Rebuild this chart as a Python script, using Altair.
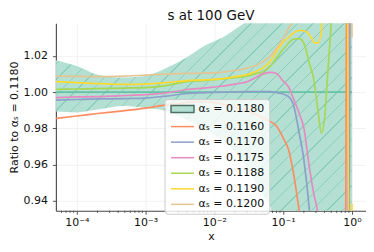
import altair as alt
import pandas as pd

# ---------------- data ----------------
X = [5e-5, 1e-4, 2e-4, 5e-4, 1e-3, 2e-3, 4e-3, 7e-3, 0.01, 0.015, 0.02, 0.03,
     0.04, 0.05, 0.065, 0.08, 0.1, 0.12, 0.14, 0.17, 0.2, 0.24, 0.28, 0.32,
     0.36, 0.40, 0.45, 0.5, 0.6, 0.7, 0.8, 0.85, 0.9, 0.95, 1.0]

BAND_LO = [0.9893, 0.9888, 0.9904, 0.9923, 0.9912, 0.9896, 0.9846, 0.9802, 0.9764,
           0.9720, 0.9671, 0.9583, 0.9500, 0.9435, 0.9369, 0.925, 0.925, 0.925,
           0.925, 0.925, 0.925, 0.925, 0.925, 0.925, 0.925, 0.925, 0.925, 0.925,
           0.925, 0.925, 0.925, 0.925, 0.925, 0.925, 0.925]
BAND_HI = [1.0176, 1.0143, 1.0096, 1.0080, 1.0088, 1.0132, 1.0192, 1.0253, 1.0280,
           1.0313, 1.0346, 1.0395, 1.045, 1.045, 1.045, 1.045, 1.045, 1.045, 1.045,
           1.045, 1.045, 1.045, 1.045, 1.045, 1.045, 1.045, 1.045, 1.045, 1.045,
           1.045, 1.045, 1.045, 1.045, 1.045, 1.045]

A1180 = [1.0, 1.0, 1.0, 1.0, 1.0, 1.0, 1.0, 1.0, 1.0, 1.0, 1.0, 1.0, 1.0, 1.0, 1.0,
         1.0, 1.0, 1.0, 1.0, 1.0, 1.0, 1.0, 1.0, 1.0, 1.0, 1.0, 1.0, 1.0, 1.0, 1.0,
         1.0, 1.0, 1.0, 1.0, 1.0]
A1160 = [0.9855, 0.9868, 0.9882, 0.9898, 0.9912, 0.9929, 0.9942, 0.9948, 0.9942,
         0.9929, 0.9915, 0.9896, 0.9877, 0.9860, 0.9838, 0.9813, 0.9748, 0.9682,
         0.9561, 0.9352, 0.9150, 0.90, 0.90, 0.90, 0.90, 0.90, 0.90, 0.90, 0.90,
         0.90, 0.90, 1.10, 1.10, 1.10, 1.10]
A1170 = [0.9956, 0.9959, 0.9962, 0.9964, 0.9967, 0.9978, 0.9992, 0.9996, 0.9998,
         1.0000, 1.0001, 1.0002, 1.0003, 1.0003, 1.0002, 0.9997, 0.9989, 0.9975,
         0.9934, 0.9780, 0.9627, 0.9352, 0.90, 0.90, 0.90, 0.90, 0.90, 0.90, 0.90,
         0.90, 0.90, 0.90, 0.90, 1.10, 1.10]
A1175 = [0.9969, 0.9973, 0.9975, 0.9981, 0.9986, 0.9995, 1.0014, 1.0022, 1.0028,
         1.0036, 1.0044, 1.0057, 1.0080, 1.0099, 1.0108, 1.0102, 1.0060, 1.0028,
         0.9967, 0.9885, 0.9802, 0.9588, 0.9435, 0.9325, 0.90, 0.90, 0.90, 0.90,
         0.90, 0.90, 0.90, 0.90, 1.10, 1.10, 1.10]
A1188 = [1.0015, 1.0017, 1.0019, 1.0022, 1.0025, 1.0036, 1.0058, 1.0063, 1.0069,
         1.0074, 1.0080, 1.0088, 1.0102, 1.0111, 1.0143, 1.0187, 1.0236, 1.0269,
         1.0291, 1.0294, 1.0269, 1.0159, 1.0066, 0.9901, 0.9775, 0.9857, 1.0132,
         1.0384, 1.10, 1.10, 1.10, 1.10, 1.10, 1.10, 1.10]
A1190 = [1.0058, 1.0052, 1.0047, 1.0042, 1.0044, 1.0052, 1.0063, 1.0067, 1.0070,
         1.0077, 1.0085, 1.0097, 1.0113, 1.0132, 1.0170, 1.0225, 1.0275, 1.0302,
         1.0324, 1.0340, 1.0338, 1.0318, 1.0275, 1.0269, 1.0335, 1.10, 1.10, 1.10,
         1.10, 1.10, 1.10, 1.10, 0.90, 0.90, 0.9385]
A1200 = [1.0088, 1.0086, 1.0085, 1.0088, 1.0093, 1.0099, 1.0103, 1.0104, 1.0106,
         1.0113, 1.0119, 1.0132, 1.0146, 1.0165, 1.0198, 1.0242, 1.0297, 1.0351,
         1.0406, 1.10, 1.10, 1.10, 1.10, 1.10, 1.10, 1.10, 1.10, 1.10, 1.10, 1.10,
         1.10, 1.10, 1.10, 1.10, 1.0300]

LABELS = ["αₛ = 0.1180", "αₛ = 0.1160", "αₛ = 0.1170", "αₛ = 0.1175",
          "αₛ = 0.1188", "αₛ = 0.1190", "αₛ = 0.1200"]
SERIES = [A1180, A1160, A1170, A1175, A1188, A1190, A1200]
LINE_COLORS = ["#66c2a5", "#fc8d62", "#8da0cb", "#e78ac3", "#a6d854", "#ffd92f", "#e5c494"]

X_TICKS = [1e-4, 1e-3, 1e-2, 1e-1, 1.0]
X_TICK_LABELS = ["10⁻⁴", "10⁻³", "10⁻²", "10⁻¹", "10⁰"]
Y_TICKS = [0.94, 0.96, 0.98, 1.00, 1.02]
MINOR_TICKS = [m * d for d in (1e-5, 1e-4, 1e-3, 1e-2, 1e-1) for m in range(2, 10)
               if 5e-5 < m * d < 1.6]

FONT = "DejaVu Sans"
BAND_FILL = "#b3e0d2"
HATCH = "#8bcfb9"

# ---------------- tables ----------------
line_df = pd.DataFrame([
    {"x": x, "y": v, "series": lab}
    for lab, vals in zip(LABELS, SERIES) for x, v in zip(X, vals)
])
band_df = pd.DataFrame({"x": X, "lo": BAND_LO, "hi": BAND_HI})
minor_df = pd.DataFrame({"x": MINOR_TICKS})

label_expr = " : ".join(
    f"datum.value > {t*0.5} && datum.value < {t*2} ? '{l}'" for t, l in zip(X_TICKS, X_TICK_LABELS)
) + " : ''"

xscale = alt.Scale(type="log", domain=[4.97e-5, 1.6])
yscale = alt.Scale(domain=[0.9346, 1.0379], zero=False, nice=False)
xaxis = alt.Axis(values=X_TICKS, labelExpr=label_expr, title="x", grid=True,
                 tickSize=3.5, labelPadding=2, titlePadding=3)
yaxis = alt.Axis(values=Y_TICKS, format=".2f", title="Ratio to αₛ = 0.1180", grid=True,
                 tickSize=3.5, labelPadding=5, titlePadding=3.5)
xenc = alt.X("x:Q", scale=xscale, axis=xaxis)

# hatch: diagonal stripes built as a linear gradient
stops = [alt.GradientStop(offset=0, color=BAND_FILL)]
step, w = 0.0295, 0.0028
o = 0.012
while o + w < 1:
    stops += [alt.GradientStop(offset=o, color=BAND_FILL),
              alt.GradientStop(offset=o, color=HATCH),
              alt.GradientStop(offset=o + w, color=HATCH),
              alt.GradientStop(offset=o + w, color=BAND_FILL)]
    o += step
stops.append(alt.GradientStop(offset=1, color=BAND_FILL))
grad = alt.LinearGradient(gradient="linear", stops=stops, x1=0, y1=0, x2=1.15, y2=0.846)

band = alt.Chart(band_df).mark_area(clip=True, interpolate="monotone", color=grad).encode(
    x=xenc,
    y=alt.Y("lo:Q", scale=yscale, axis=yaxis),
    y2="hi:Q",
)

layers = [band]
for lab, col in zip(LABELS, LINE_COLORS):
    layers.append(
        alt.Chart(line_df).transform_filter(alt.datum.series == lab)
        .mark_line(clip=True, interpolate="monotone", strokeWidth=1.7, color=col)
        .encode(x=xenc, y=alt.Y("y:Q", scale=yscale, axis=yaxis))
    )

minor = alt.Chart(minor_df).mark_rule(color="#444", strokeWidth=0.8).encode(
    x=xenc, y=alt.value(188), y2=alt.value(190.2)
)
layers.append(minor)

SHAPES = ["M-2.3,-0.7H2.3V0.7H-2.3Z"] + ["M-2.3,0H2.3"] * 6
LEGEND_COLORS = ["#4f6f65"] + LINE_COLORS[1:]
leg = alt.Legend(title=None, orient="none", legendX=109, legendY=76, rowPadding=4.6)
legend_layer = alt.Chart(line_df).transform_filter("datum.x < 0").mark_point(
    filled=False, fill=BAND_FILL, size=100, strokeWidth=1.5, opacity=1
).encode(
    x=xenc,
    y=alt.Y("y:Q", scale=yscale, axis=yaxis),
    shape=alt.Shape("series:N", scale=alt.Scale(domain=LABELS, range=SHAPES), legend=leg),
    stroke=alt.Stroke("series:N", scale=alt.Scale(domain=LABELS, range=LEGEND_COLORS), legend=leg),
)
layers.append(legend_layer)

chart = alt.layer(*layers).properties(
    width=311, height=188,
    title=alt.Title("s at 100 GeV", fontSize=13.5, font=FONT, fontWeight="normal",
                    offset=1, anchor="middle", color="#111"),
    autosize=alt.AutoSizeParams(type="none"),
    padding={"left": 48, "top": 15, "right": 0, "bottom": 33},
).configure_view(stroke=None).configure_axis(
    labelFont=FONT, titleFont=FONT, labelFontSize=11, titleFontSize=11,
    labelColor="#111", titleColor="#111", titleFontWeight="normal",
    domainColor="#444", tickColor="#444", domainWidth=1.1, tickWidth=0.9,
    gridColor="#eeeeee", gridWidth=0.8,
).configure_legend(
    fillColor="rgba(255,255,255,0.8)", strokeColor="#cccccc", cornerRadius=3,
    padding=4, labelFont=FONT, labelFontSize=11, labelColor="#111",
    symbolSize=100, symbolStrokeWidth=1.5, labelOffset=10,
    symbolOffset=8,
)

chart.save("out.html", embed_options={"renderer": "svg", "actions": False})
